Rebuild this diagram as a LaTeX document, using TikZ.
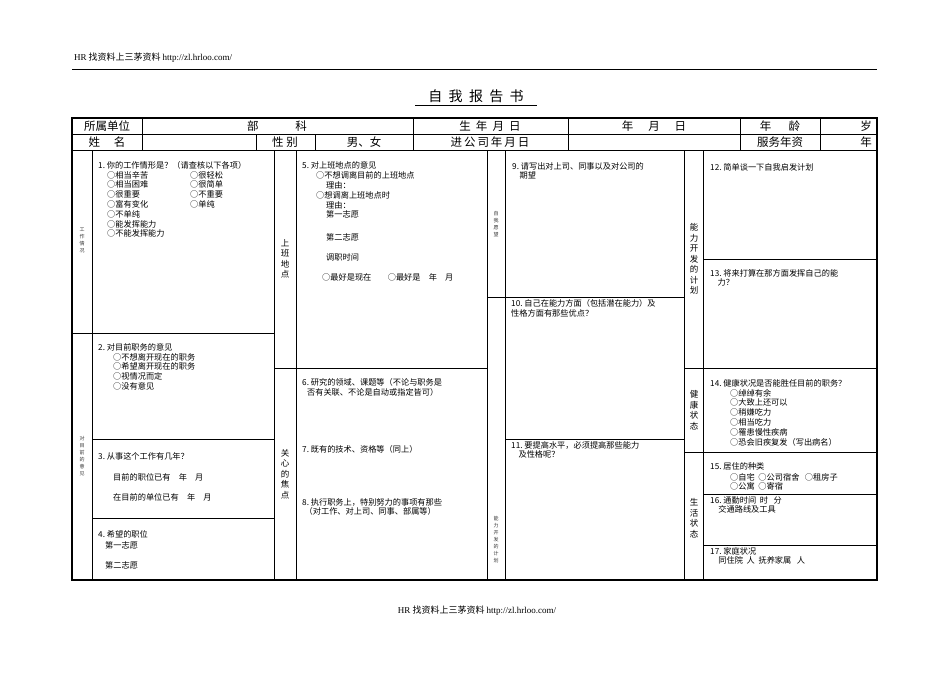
\documentclass[tikz,border=0pt]{standalone}
\usepackage{fontspec}
\setmainfont{Noto Sans CJK SC}
\newfontfamily\lat{Liberation Serif}
\begin{document}
\begin{tikzpicture}[x=1pt,y=-1pt,
  txt/.style={anchor=west,inner sep=0pt,font=\fontsize{8.2}{10}\selectfont,align=left},
  blk/.style={anchor=north west,inner sep=0pt,font=\fontsize{8.2}{9.8}\selectfont,align=left},
  hd/.style={inner sep=0pt,font=\fontsize{11.5}{12}\selectfont},
  vl/.style={inner sep=0pt,font=\fontsize{8.5}{10.5}\selectfont,align=center},
  vs/.style={inner sep=0pt,font=\fontsize{5}{7}\selectfont,align=center,text=black!80},
  ln/.style={line width=0.7pt}]
\useasboundingbox (0,0) rectangle (950,673);
\node[anchor=west,inner sep=0pt,font=\fontsize{9}{11}\selectfont] (top) at (74,58) {{\lat HR} 找资料上三茅资料 {\lat http://zl.hrloo.com/}};
\draw[line width=0.6pt] (72,69) -- (877,69);
\node[inner sep=1pt,font=\fontsize{14}{15}\selectfont] (title) at (476,96) {自\ \ 我\ \ 报\ \ 告\ \ 书};
\draw[line width=0.6pt] (415,105) -- (537,105);
% header rows
\draw[ln] (72,134) -- (877,134) (72,150) -- (877,150);
\foreach \x in {142,413,568,740,820} \draw[ln] (\x,118) -- (\x,150);
\draw[ln] (256,134) -- (256,150) (315,134) -- (315,150);
\node[hd] (a1) at (107,126) {所属单位};
\node[hd] (a2) at (277,126) {部\hspace{3.2em}科};
\node[hd] (a3) at (490,126) {生\ \ 年\ \ 月\ \ 日};
\node[hd] (a4) at (654,126) {年\hspace{1.3em}月\hspace{1.3em}日};
\node[hd] (a5) at (780,126) {年\hspace{1.5em}龄};
\node[hd,anchor=east] (a6) at (872,126) {岁};
\node[hd] (b1) at (107,142) {姓\hspace{1.2em}名};
\node[hd] (b2) at (285,142) {性\ 别};
\node[hd] (b3) at (364,142) {男、女};
\node[hd] (b4) at (490,142) {进\,公\,司\,年\,月\,日};
\node[hd] (b5) at (780,142) {服务年资};
\node[hd,anchor=east] (b6) at (872,142) {年};
% body grid
\foreach \x in {92,274,296,487,505,684,703} \draw[ln] (\x,150) -- (\x,580);
\draw[ln] (72,333) -- (274,333) (92,439) -- (274,439) (92,518) -- (274,518);
\draw[ln] (274,368) -- (487,368);
\draw[ln] (487,297) -- (684,297) (505,439) -- (684,439);
\draw[ln] (703,259) -- (877,259) (684,368) -- (877,368) (684,452) -- (877,452) (703,494) -- (877,494) (703,545) -- (877,545);
\draw[line width=1.6pt] (72,118) rectangle (877,580);
% vertical labels
\node[vs] (l1) at (82,240) {工\\作\\情\\况};
\node[vs] (l2) at (82,456) {对\\目\\前\\的\\意\\见};
\node[vl] (l3) at (285,259) {上\\班\\地\\点};
\node[vl] (l4) at (285,474) {关\\心\\的\\焦\\点};
\node[vs] (l5) at (496,224) {自\\我\\愿\\望};
\node[vs] (l6) at (496,540) {能\\力\\开\\发\\的\\计\\划};
\node[vl] (l7) at (694,259) {能\\力\\开\\发\\的\\计\\划};
\node[vl] (l8) at (694,410) {健\\康\\状\\态};
\node[vl] (l9) at (694,518) {生\\活\\状\\态};
% Q1
\node[blk] (q1) at (98,161) {1.~你的工作情形是？（请查核以下各项）};
\node[blk] (q1a) at (107,171) {○相当辛苦\\○相当困难\\○很重要\\○富有变化\\○不单纯\\○能发挥能力\\○不能发挥能力};
\node[blk] (q1b) at (190,171) {○很轻松\\○很简单\\○不重要\\○单纯};
% Q2
\node[blk] (q2) at (98,343) {2.~对目前职务的意见};
\node[blk] (q2a) at (113,353) {○不想离开现在的职务\\○希望离开现在的职务\\○视情况而定\\○没有意见};
% Q3
\node[txt] (q3) at (98,456) {3.~从事这个工作有几年？};
\node[txt] (q3a) at (113,477) {目前的职位已有\quad 年\quad 月};
\node[txt] (q3b) at (113,497) {在目前的单位已有\quad 年\quad 月};
% Q4
\node[txt] (q4) at (98,534) {4.~希望的职位};
\node[txt] (q4a) at (105,545) {第一志愿};
\node[txt] (q4b) at (105,565) {第二志愿};
% Q5
\node[blk] (q5) at (302,161) {5.~对上班地点的意见};
\node[blk] (q5a) at (316,171) {○不想调离目前的上班地点};
\node[blk] (q5b) at (326,181) {理由：};
\node[blk] (q5c) at (316,191) {○想调离上班地点时};
\node[blk] (q5d) at (326,201) {理由：\\第一志愿};
\node[txt] (q5e) at (326,237) {第二志愿};
\node[txt] (q5f) at (326,257) {调职时间};
\node[txt] (q5g) at (322,277) {○最好是现在\hspace{2em}○最好是\quad 年\quad 月};
% Q6-8
\node[blk] (q6) at (302,378) {6.~研究的领域、课题等（不论与职务是\\\hspace{0.6em}否有关联、不论是自动或指定皆可）};
\node[txt] (q7) at (302,449) {7.~既有的技术、资格等（同上）};
\node[blk] (q8) at (302,498) {8.~执行职务上，特别努力的事项有那些\\\hspace{0.3em}（对工作、对上司、同事、部属等）};
% Q9-11
\node[blk] (q9) at (512,162) {9.~请写出对上司、同事以及对公司的\\\hspace{0.9em}期望};
\node[blk] (q10) at (511,299) {10.~自己在能力方面（包括潜在能力）及\\性格方面有那些优点？};
\node[blk] (q11) at (511,441) {11.~要提高水平，必须提高那些能力\\\hspace{0.9em}及性格呢？};
% Q12-17
\node[txt] (q12) at (710,167) {12.~简单谈一下自我启发计划};
\node[blk] (q13) at (710,269) {13.~将来打算在那方面发挥自己的能\\\hspace{0.9em}力？};
\node[blk] (q14) at (710,379) {14.~健康状况是否能胜任目前的职务？};
\node[blk] (q14a) at (730,389) {○绰绰有余\\○大致上还可以\\○稍嫌吃力\\○相当吃力\\○罹患慢性疾病\\○恐会旧疾复发（写出病名）};
\node[blk] (q15) at (710,462) {15.~居住的种类};
\node[blk] (q15a) at (730,473) {○自宅\ \ ○公司宿舍\ \ \ ○租房子\\○公寓\ \ ○寄宿};
\node[blk] (q16) at (710,496) {16.~通勤时间\ \ 时\ \ \ 分\\\hspace{1em}交通路线及工具};
\node[blk] (q17) at (710,547) {17.~家庭状况\\\hspace{1em}同住院\ \ 人\ \ 抚养家属\ \ \ 人};
\node[inner sep=0pt,font=\fontsize{9}{11}\selectfont] (foot) at (477,611) {{\lat HR} 找资料上三茅资料 {\lat http://zl.hrloo.com/}};
\end{tikzpicture}
\end{document}
